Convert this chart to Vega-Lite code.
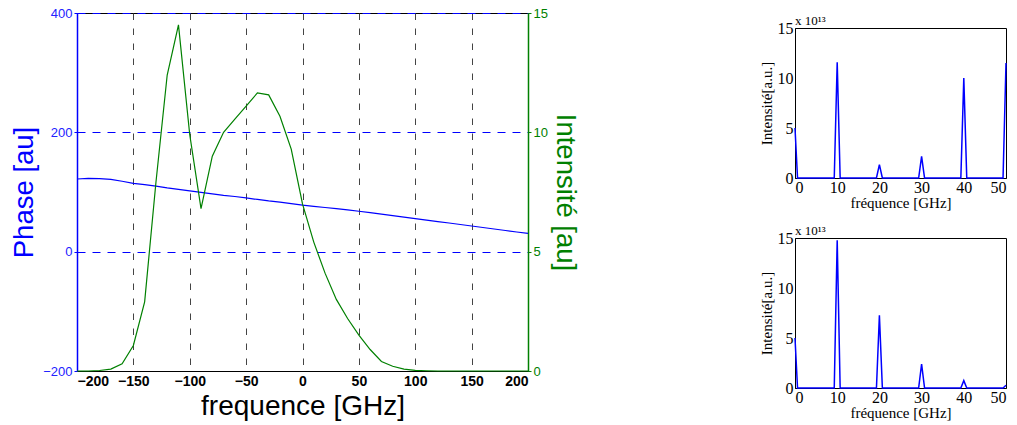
{
  "$schema": "https://vega.github.io/schema/vega-lite/v6.json",
  "background": "white",
  "padding": {"left": 10, "top": 6, "right": 0, "bottom": 0},
  "config": {"view": {"stroke": "black", "strokeWidth": 1}},
  "datasets": {
    "phase": [
      {"f": -200, "p": 121.8}, {"f": -190, "p": 123}, {"f": -180, "p": 122.5}, {"f": -170, "p": 121}, {"f": -160, "p": 118},
      {"f": -150, "p": 114.6}, {"f": -140, "p": 112.5}, {"f": -130, "p": 110}, {"f": -120, "p": 107}, {"f": -110, "p": 104.5},
      {"f": -100, "p": 102}, {"f": -90, "p": 99.5}, {"f": -80, "p": 97}, {"f": -70, "p": 94.5}, {"f": -60, "p": 92.5},
      {"f": -50, "p": 90}, {"f": -40, "p": 87.5}, {"f": -30, "p": 85}, {"f": -20, "p": 83}, {"f": -10, "p": 80.5},
      {"f": 0, "p": 78}, {"f": 10, "p": 76}, {"f": 20, "p": 74}, {"f": 30, "p": 72}, {"f": 40, "p": 70},
      {"f": 50, "p": 67.7}, {"f": 60, "p": 65.5}, {"f": 70, "p": 63}, {"f": 80, "p": 60.5}, {"f": 90, "p": 58},
      {"f": 100, "p": 55.5}, {"f": 110, "p": 53}, {"f": 120, "p": 50.5}, {"f": 130, "p": 48}, {"f": 140, "p": 45.5},
      {"f": 150, "p": 43}, {"f": 160, "p": 40.5}, {"f": 170, "p": 38}, {"f": 180, "p": 35.5}, {"f": 190, "p": 33}, {"f": 200, "p": 30.5}
    ],
    "inten": [
      {"f": -200, "i": 0}, {"f": -190, "i": 0}, {"f": -180, "i": 0.02}, {"f": -170, "i": 0.08}, {"f": -160, "i": 0.3},
      {"f": -150, "i": 1.07}, {"f": -140, "i": 2.9}, {"f": -130, "i": 7.9}, {"f": -120, "i": 12.4}, {"f": -110, "i": 14.5},
      {"f": -100, "i": 9.9}, {"f": -90, "i": 6.8}, {"f": -80, "i": 9.0}, {"f": -70, "i": 10.0}, {"f": -60, "i": 10.55},
      {"f": -50, "i": 11.1}, {"f": -40, "i": 11.65}, {"f": -30, "i": 11.57}, {"f": -20, "i": 10.67}, {"f": -10, "i": 9.3},
      {"f": 0, "i": 7.0}, {"f": 10, "i": 5.4}, {"f": 20, "i": 4.1}, {"f": 30, "i": 3.0}, {"f": 40, "i": 2.2},
      {"f": 50, "i": 1.5}, {"f": 60, "i": 0.9}, {"f": 70, "i": 0.4}, {"f": 80, "i": 0.2}, {"f": 90, "i": 0.08},
      {"f": 100, "i": 0.03}, {"f": 110, "i": 0.01}, {"f": 120, "i": 0}, {"f": 130, "i": 0}, {"f": 140, "i": 0},
      {"f": 150, "i": 0}, {"f": 160, "i": 0}, {"f": 170, "i": 0}, {"f": 180, "i": 0}, {"f": 190, "i": 0}, {"f": 200, "i": 0}
    ],
    "s1": [
      {"f": 0, "v": 5.0}, {"f": 0.6, "v": 0}, {"f": 9.3, "v": 0}, {"f": 10, "v": 11.57}, {"f": 10.7, "v": 0},
      {"f": 19.3, "v": 0}, {"f": 20, "v": 1.33}, {"f": 20.7, "v": 0}, {"f": 29.3, "v": 0}, {"f": 30, "v": 2.17},
      {"f": 30.7, "v": 0}, {"f": 39.3, "v": 0}, {"f": 40, "v": 10.0}, {"f": 40.7, "v": 0}, {"f": 49.3, "v": 0}, {"f": 50, "v": 11.5}
    ],
    "s2": [
      {"f": 0, "v": 5.0}, {"f": 0.6, "v": 0}, {"f": 9.3, "v": 0}, {"f": 10, "v": 14.77}, {"f": 10.7, "v": 0},
      {"f": 19.3, "v": 0}, {"f": 20, "v": 7.28}, {"f": 20.7, "v": 0}, {"f": 29.3, "v": 0}, {"f": 30, "v": 2.4},
      {"f": 30.7, "v": 0}, {"f": 39.3, "v": 0}, {"f": 40, "v": 0.74}, {"f": 40.7, "v": 0}, {"f": 49.3, "v": 0}, {"f": 50, "v": 0.27}
    ],
    "empty": []
  },
  "spacing": 179,
  "hconcat": [
    {
      "width": 451,
      "height": 358,
      "resolve": {"scale": {"y": "independent"}},
      "layer": [
        {
          "data": {"name": "phase"},
          "mark": {"type": "line", "color": "#0000ff", "strokeWidth": 1.2},
          "encoding": {
            "x": {
              "field": "f", "type": "quantitative",
              "scale": {"domain": [-200, 200], "nice": false},
              "axis": {
                "values": [-200, -150, -100, -50, 0, 50, 100, 150, 200],
                "title": "frequence [GHz]", "titleFont": "Liberation Sans", "titleFontSize": 28, "titleFontWeight": "normal",
                "titleColor": "black", "titlePadding": 4,
                "labelFont": "Liberation Sans", "labelFontSize": 14, "labelFontWeight": "bold", "labelColor": "black", "labelPadding": 3,
                "ticks": false, "domainColor": "black",
                "grid": true, "gridColor": "#444444", "gridDash": [6.5, 8.5]
              }
            },
            "y": {
              "field": "p", "type": "quantitative",
              "scale": {"domain": [-200, 400], "nice": false},
              "axis": {
                "orient": "left", "values": [-200, 0, 200, 400],
                "title": "Phase [au]", "titleFont": "Liberation Sans", "titleFontSize": 27.5, "titleFontWeight": "normal",
                "titleColor": "#0000ff", "titlePadding": 4,
                "labelFont": "Liberation Sans", "labelFontSize": 13, "labelColor": "#2222ff", "labelPadding": 2,
                "ticks": true, "tickSize": 3, "tickColor": "#0000ff",
                "domainColor": "#0000ff", "domainWidth": 1.5,
                "grid": true, "gridColor": "#0000ff", "gridDash": [8, 7]
              }
            }
          }
        },
        {
          "data": {"name": "inten"},
          "mark": {"type": "line", "color": "#008000", "strokeWidth": 1.2},
          "encoding": {
            "x": {"field": "f", "type": "quantitative"},
            "y": {
              "field": "i", "type": "quantitative",
              "scale": {"domain": [0, 15], "nice": false},
              "axis": {
                "orient": "right", "values": [0, 5, 10, 15],
                "title": "Intensité [au]", "titleFont": "Liberation Sans", "titleFontSize": 27.5, "titleFontWeight": "normal",
                "titleColor": "#008000", "titlePadding": 3,
                "labelFont": "Liberation Sans", "labelFontSize": 13, "labelColor": "#008000", "labelPadding": 2,
                "ticks": true, "tickSize": 3, "tickColor": "#008000",
                "domainColor": "#008000", "domainWidth": 1.5,
                "grid": false
              }
            }
          }
        }
      ]
    },
    {
      "spacing": 0,
      "vconcat": [
        {
          "width": 211,
          "height": 0.5,
          "view": {"stroke": null},
          "data": {"name": "empty"},
          "mark": "point",
          "encoding": {}
        },
        {
          "width": 211,
          "height": 150,
          "title": {"text": "x 10¹³", "anchor": "start", "frame": "group", "font": "Liberation Serif", "fontSize": 13, "fontWeight": "normal", "offset": -8},
          "data": {"name": "s1"},
          "mark": {"type": "line", "color": "#0000ff", "strokeWidth": 1.5},
          "encoding": {
            "x": {
              "field": "f", "type": "quantitative",
              "scale": {"domain": [0, 50], "nice": false},
              "axis": {
                "values": [0, 10, 20, 30, 40, 50], "title": "fréquence [GHz]",
                "titleFont": "Liberation Serif", "titleFontSize": 15, "titleFontWeight": "normal", "titleColor": "black", "titlePadding": 0,
                "labelFont": "Liberation Serif", "labelFontSize": 16, "labelColor": "black", "labelPadding": 1,
                "ticks": false, "domainColor": "black", "grid": false
              }
            },
            "y": {
              "field": "v", "type": "quantitative",
              "scale": {"domain": [0, 15], "nice": false},
              "axis": {
                "values": [0, 5, 10, 15], "title": "Intensité[a.u.]",
                "titleFont": "Liberation Serif", "titleFontSize": 15, "titleFontWeight": "normal", "titleColor": "black", "titlePadding": 3,
                "labelFont": "Liberation Serif", "labelFontSize": 16, "labelColor": "black", "labelPadding": 2,
                "ticks": false, "domainColor": "black", "grid": false
              }
            }
          }
        },
        {
          "width": 211,
          "height": 13,
          "view": {"stroke": null},
          "data": {"name": "empty"},
          "mark": "point",
          "encoding": {}
        },
        {
          "width": 211,
          "height": 150,
          "title": {"text": "x 10¹³", "anchor": "start", "frame": "group", "font": "Liberation Serif", "fontSize": 13, "fontWeight": "normal", "offset": -8},
          "data": {"name": "s2"},
          "mark": {"type": "line", "color": "#0000ff", "strokeWidth": 1.5},
          "encoding": {
            "x": {
              "field": "f", "type": "quantitative",
              "scale": {"domain": [0, 50], "nice": false},
              "axis": {
                "values": [0, 10, 20, 30, 40, 50], "title": "fréquence [GHz]",
                "titleFont": "Liberation Serif", "titleFontSize": 15, "titleFontWeight": "normal", "titleColor": "black", "titlePadding": 0,
                "labelFont": "Liberation Serif", "labelFontSize": 16, "labelColor": "black", "labelPadding": 1,
                "ticks": false, "domainColor": "black", "grid": false
              }
            },
            "y": {
              "field": "v", "type": "quantitative",
              "scale": {"domain": [0, 15], "nice": false},
              "axis": {
                "values": [0, 5, 10, 15], "title": "Intensité[a.u.]",
                "titleFont": "Liberation Serif", "titleFontSize": 15, "titleFontWeight": "normal", "titleColor": "black", "titlePadding": 3,
                "labelFont": "Liberation Serif", "labelFontSize": 16, "labelColor": "black", "labelPadding": 2,
                "ticks": false, "domainColor": "black", "grid": false
              }
            }
          }
        }
      ]
    }
  ]
}
